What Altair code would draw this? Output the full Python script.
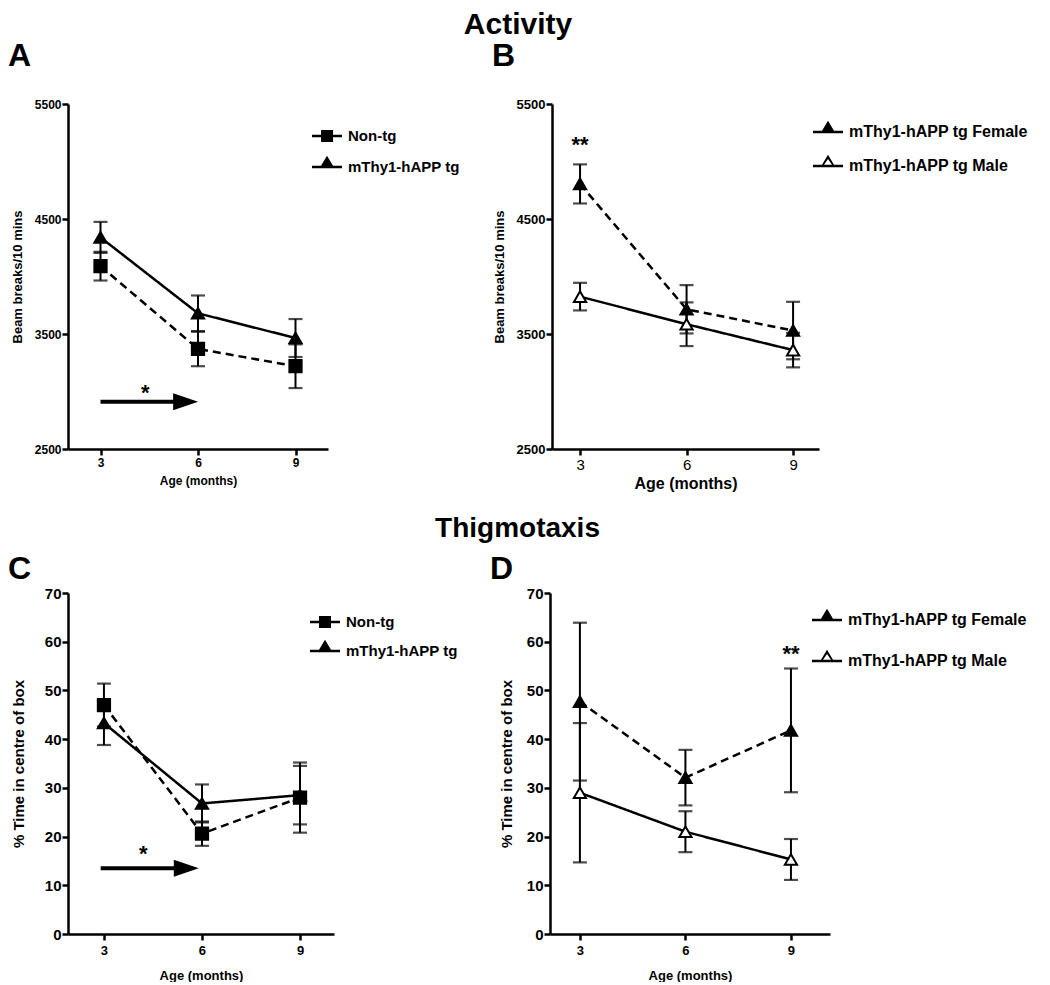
import altair as alt
import pandas as pd

FONT = "Liberation Sans"
months = [3, 6, 9]

# ---------------- Panel A : Activity, genotype ----------------
a_groups = ["Non-tg", "mThy1-hAPP tg"]
a_nontg_mean = [4090, 3370, 3220]
a_nontg_err = [125, 150, 190]
a_tg_mean = [4340, 3680, 3465]
a_tg_err = [135, 155, 165]

# ---------------- Panel B : Activity, sex ----------------
b_groups = ["mThy1-hAPP tg Female", "mThy1-hAPP tg Male"]
b_female_mean = [4805, 3715, 3530]
b_female_err = [170, 210, 250]
b_male_mean = [3825, 3585, 3360]
b_male_err = [120, 190, 150]

# ---------------- Panel C : Thigmotaxis, genotype ----------------
c_groups = ["Non-tg", "mThy1-hAPP tg"]
c_nontg_mean = [47.0, 20.6, 28.0]
c_nontg_err = [4.4, 2.5, 7.2]
c_tg_mean = [43.3, 26.8, 28.5]
c_tg_err = [4.5, 3.9, 6.0]

# ---------------- Panel D : Thigmotaxis, sex ----------------
d_groups = ["mThy1-hAPP tg Female", "mThy1-hAPP tg Male"]
d_female_mean = [47.7, 32.1, 41.8]
d_female_err = [16.2, 5.7, 12.7]
d_male_mean = [29.0, 21.0, 15.3]
d_male_err = [14.3, 4.2, 4.2]

activity_ticks = [2500, 3500, 4500, 5500]
thigmo_ticks = [0, 10, 20, 30, 40, 50, 60, 70]

# legend glyphs: a short line with the marker on it (all filled geometry)
LEG_LINE = "M-1,-0.08H1V0.08H-1Z"
SQUARE_LEG = LEG_LINE + "M-0.4,-0.4H0.4V0.4H-0.4Z"
TRI_FILLED_LEG = LEG_LINE + "M-0.5,0.08L0,-0.75L0.5,0.08Z"
TRI_OPEN_LEG = LEG_LINE + "M-0.5,0.08L0,-0.75L0.5,0.08ZM-0.3,-0.04L0.3,-0.04L0,-0.47Z"
ARROW_HEAD = "M-1,-0.68L1,0L-1,0.68Z"


def make_df(groups, means, errs):
    rows = []
    for g, m, e in zip(groups, means, errs):
        for x, mi, ei in zip(months, m, e):
            rows.append(dict(group=g, month=x, mean=mi, lo=mi - ei, hi=mi + ei))
    return pd.DataFrame(rows)


def panel(df, groups, shapes, fills, dashes, leg_paths,
          xdom, ydom, yvals, w, h, ytitle, xtitle, letter, letter_offset,
          legx, legy, leg_rowpad, leg_fontsize,
          xlab, xtit, ylab, ytit, annots):
    xscale = alt.Scale(domain=xdom, nice=False, zero=False)
    yscale = alt.Scale(domain=ydom, nice=False, zero=False)
    xaxis = alt.Axis(values=months, title=xtitle, grid=False, format="d",
                     labelFontSize=xlab[0], labelFontWeight=xlab[1], labelPadding=xlab[2],
                     titleFontSize=xtit[0], titleFontWeight=xtit[1], titlePadding=xtit[2])
    yaxis = alt.Axis(values=yvals, title=ytitle, grid=False, format="d",
                     labelFontSize=ylab[0], labelFontWeight=ylab[1], labelPadding=ylab[2],
                     titleFontSize=ytit[0], titleFontWeight=ytit[1], titlePadding=ytit[2])

    def X(f="month"):
        return alt.X(f + ":Q", scale=xscale, axis=xaxis)

    def Y(f="mean"):
        return alt.Y(f + ":Q", scale=yscale, axis=yaxis)

    base = alt.Chart(df)
    line = base.mark_line(color="black", strokeWidth=2.5).encode(
        x=X(), y=Y(),
        strokeDash=alt.StrokeDash("group:N", scale=alt.Scale(domain=groups, range=dashes), legend=None),
    )
    err = base.mark_rule(color="black", strokeWidth=2).encode(x=X(), y=Y("lo"), y2="hi:Q")
    cap_lo = base.mark_tick(color="black", thickness=2.2, size=14, orient="horizontal").encode(x=X(), y=Y("lo"))
    cap_hi = base.mark_tick(color="black", thickness=2.2, size=14, orient="horizontal").encode(x=X(), y=Y("hi"))
    pts = base.mark_point(stroke="black", strokeWidth=2, opacity=1, fillOpacity=1, size=150).encode(
        x=X(), y=Y(),
        shape=alt.Shape("group:N", scale=alt.Scale(domain=groups, range=shapes), legend=None),
        fill=alt.Fill("group:N", scale=alt.Scale(domain=groups, range=fills), legend=None),
    )
    layers = [line, err, cap_lo, cap_hi, pts]

    legend = alt.Legend(orient="none", legendX=legx, legendY=legy, title=None,
                        labelFont=FONT, labelFontWeight="bold", labelFontSize=leg_fontsize,
                        labelColor="black", labelOffset=6, labelLimit=400,
                        symbolSize=900, symbolFillColor="black", symbolStrokeWidth=0,
                        symbolOpacity=1, rowPadding=leg_rowpad)
    leg = base.transform_calculate(leg="datum.group").transform_filter("false").mark_point(
        filled=True, color="black", opacity=1).encode(
        x=X(), y=Y(),
        shape=alt.Shape("leg:N", scale=alt.Scale(domain=groups, range=leg_paths), legend=legend),
    )
    layers.append(leg)

    for a in annots:
        if a["kind"] == "arrow":
            adf = pd.DataFrame(dict(month=[a["x0"]], month2=[a["x1"]], mean=[a["y"]]))
            shaft = alt.Chart(adf).mark_rule(color="black", strokeWidth=4).encode(
                x=X(), x2="month2:Q", y=Y())
            hdf = pd.DataFrame(dict(month=[a["hx"]], mean=[a["y"]]))
            head = alt.Chart(hdf).mark_point(shape=ARROW_HEAD, size=625, filled=True,
                                             color="black", opacity=1).encode(x=X(), y=Y())
            layers += [shaft, head]
        else:
            tdf = pd.DataFrame(dict(month=[a["x"]], mean=[a["y"]], label=[a["text"]]))
            txt = alt.Chart(tdf).mark_text(font=FONT, fontSize=22, fontWeight="bold",
                                           color="black", baseline="middle").encode(
                x=X(), y=Y(), text="label:N")
            layers.append(txt)

    return alt.layer(*layers).resolve_scale(shape="independent", fill="independent").properties(
        width=w, height=h,
        title=alt.TitleParams(letter, anchor="start", frame="group", dx=-60, offset=letter_offset,
                              fontSize=32, font=FONT, fontWeight="bold", color="black"),
    )


dfA = make_df(a_groups, [a_nontg_mean, a_tg_mean], [a_nontg_err, a_tg_err])
dfB = make_df(b_groups, [b_female_mean, b_male_mean], [b_female_err, b_male_err])
dfC = make_df(c_groups, [c_nontg_mean, c_tg_mean], [c_nontg_err, c_tg_err])
dfD = make_df(d_groups, [d_female_mean, d_male_mean], [d_female_err, d_male_err])

pA = panel(dfA, a_groups, ["square", "triangle-up"], ["black", "black"], [[8, 5], [1, 0]],
           [SQUARE_LEG, TRI_FILLED_LEG],
           [2, 10], [2500, 5500], activity_ticks, 260, 345,
           "Beam breaks/10 mins", "Age (months)", "A", 25,
           244, 17, 8, 15,
           (12, "bold", 2), (12, "bold", 7), (12, "bold", 1), (13, "bold", 10),
           [dict(kind="arrow", x0=3, x1=5.4, hx=5.62, y=2910),
            dict(kind="text", x=4.38, y=2990, text="*")])

pB = panel(dfB, b_groups, ["triangle-up", "triangle-up"], ["black", "white"], [[8, 5], [1, 0]],
           [TRI_FILLED_LEG, TRI_OPEN_LEG],
           [2.21, 9.73], [2500, 5500], activity_ticks, 267, 345,
           "Beam breaks/10 mins", "Age  (months)", "B", 25,
           261, 13, 11, 16,
           (15, "normal", 2), (16, "bold", 3), (13, "bold", 1), (13, "bold", 10),
           [dict(kind="text", x=3, y=5140, text="**")])

pC = panel(dfC, c_groups, ["square", "triangle-up"], ["black", "black"], [[8, 5], [1, 0]],
           [SQUARE_LEG, TRI_FILLED_LEG],
           [1.9, 10.04], [0, 70], thigmo_ticks, 266, 341,
           "% Time in centre of box", "Age (months)", "C", 0,
           242, 14, 6, 15,
           (13, "bold", 4), (13, "bold", 12), (15, "bold", 1), (15, "bold", 18),
           [dict(kind="arrow", x0=2.9, x1=5.3, hx=5.52, y=13.5),
            dict(kind="text", x=4.2, y=16.5, text="*")])

pD = panel(dfD, d_groups, ["triangle-up", "triangle-up"], ["black", "white"], [[8, 5], [1, 0]],
           [TRI_FILLED_LEG, TRI_OPEN_LEG],
           [2.15, 10.11], [0, 70], thigmo_ticks, 280, 341,
           "% Time in centre of box", "Age (months)", "D", 0,
           262, 12, 18, 16,
           (13, "bold", 4), (13, "bold", 12), (15, "bold", 1), (15, "bold", 12),
           [dict(kind="text", x=9, y=57.5, text="**")])

row1 = alt.hconcat(pA, pB, spacing=224, bounds="flush")
row2 = alt.hconcat(pC, pD, spacing=216, bounds="flush").properties(
    title=alt.TitleParams("Thigmotaxis", anchor="middle", fontSize=28, font=FONT,
                          fontWeight="bold", color="black", offset=10))

chart = alt.vconcat(row1, row2, spacing=24).properties(
    title=alt.TitleParams("Activity", anchor="middle", fontSize=30, font=FONT,
                          fontWeight="bold", color="black", offset=0),
    padding={"left": 0, "top": 2, "right": 0, "bottom": 0},
).configure_view(stroke=None).configure_axis(
    domainColor="black", domainWidth=2.5, tickColor="black", tickWidth=2.5, tickSize=6,
    labelFont=FONT, titleFont=FONT, labelColor="black", titleColor="black",
).configure_legend(labelFont=FONT)

chart.save("out.html", embed_options={"renderer": "svg", "actions": False})
